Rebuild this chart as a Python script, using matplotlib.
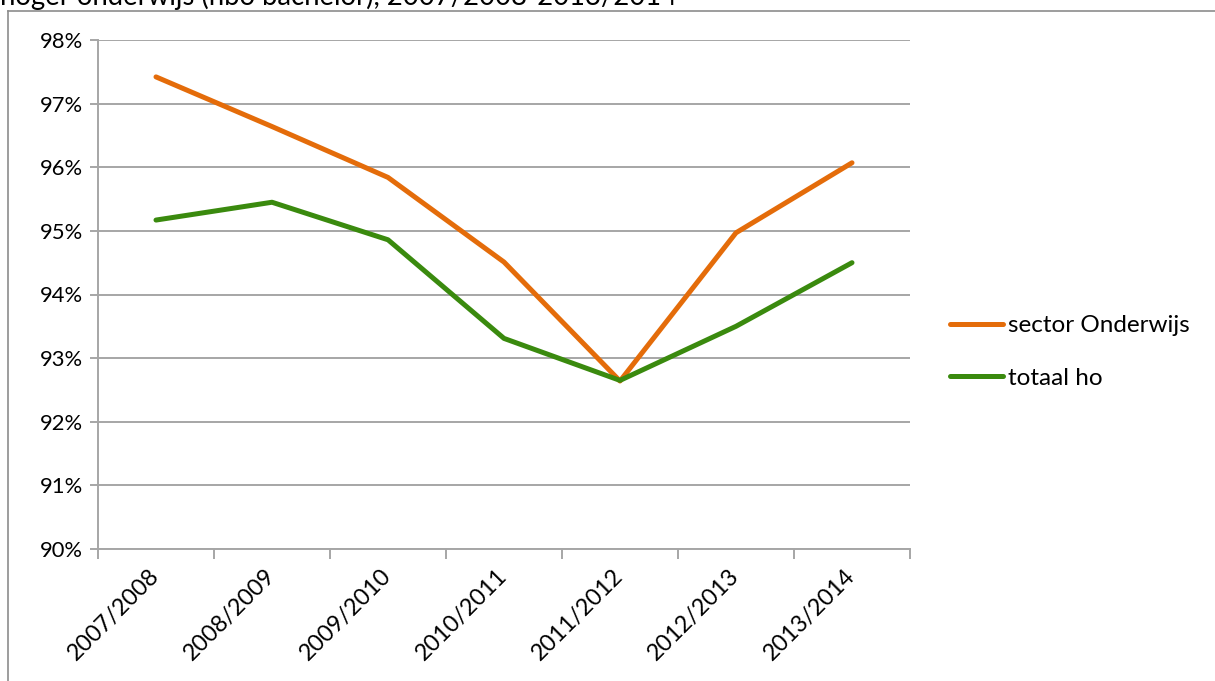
import matplotlib.pyplot as plt
from matplotlib.lines import Line2D
from matplotlib.ticker import FuncFormatter, FixedLocator

plt.rcParams['font.family'] = ['Lato', 'DejaVu Sans']

years = ['2007/2008', '2008/2009', '2009/2010', '2010/2011',
         '2011/2012', '2012/2013', '2013/2014']
sector_onderwijs = [97.42, 96.64, 95.84, 94.51, 92.64, 94.97, 96.07]
totaal_ho = [95.17, 95.45, 94.86, 93.31, 92.65, 93.50, 94.50]

orange = '#E46C0A'
green = '#3A8A0E'
grid_col = '#A6A6A6'

fig = plt.figure(figsize=(12.15, 6.81), dpi=100)
ax = fig.add_axes([98 / 1215, 1 - 549 / 681, (910 - 98) / 1215, (549 - 40) / 681])

x = list(range(len(years)))
ax.plot(x, sector_onderwijs, color=orange, lw=3.6, solid_capstyle='round',
        solid_joinstyle='round', label='sector Onderwijs', zorder=3)
ax.plot(x, totaal_ho, color=green, lw=3.6, solid_capstyle='round',
        solid_joinstyle='round', label='totaal ho', zorder=4)

ax.set_xlim(-0.5, len(years) - 0.5)
ax.set_ylim(90, 98)
ax.set_yticks(range(90, 99))
ax.yaxis.set_major_formatter(FuncFormatter(lambda v, p: f'{int(v)}%'))
ax.grid(axis='y', color=grid_col, lw=1.4)
ax.set_axisbelow(True)

ax.set_xticks(x)
ax.set_xticklabels(years, rotation=45, ha='right', va='center', rotation_mode='anchor')
ax.xaxis.set_minor_locator(FixedLocator([i - 0.5 for i in range(len(years) + 1)]))
ax.tick_params(axis='x', which='major', length=0, pad=17, labelsize=16.8)
ax.tick_params(axis='x', which='minor', length=7, color=grid_col, width=1.4)
ax.tick_params(axis='y', length=6, color=grid_col, width=1.4, labelsize=15.8, pad=5)

for s in ['top', 'right']:
    ax.spines[s].set_visible(False)
for s in ['left', 'bottom']:
    ax.spines[s].set_color(grid_col)
    ax.spines[s].set_linewidth(1.4)

fig.legend(loc='center left', bbox_to_anchor=(950 / 1215, 1 - 352 / 681), frameon=False,
           fontsize=17.5, handlelength=2.2, handletextpad=0.2, labelspacing=1.3,
           borderpad=0, borderaxespad=0)

# outer chart box, partly outside the image
fig.add_artist(Line2D([8 / 1215, 8 / 1215], [0, 1 - 11 / 681], color='#8C8C8C', lw=1.2))
fig.add_artist(Line2D([8 / 1215, 1], [1 - 11 / 681, 1 - 11 / 681], color='#8C8C8C', lw=1.2))

# title text cut off at the top of the image
fig.text(0.0, 1 - 5 / 681, 'hoger onderwijs (hbo bachelor), 2007/2008-2013/2014',
         fontsize=19.8, ha='left', va='baseline')

fig.savefig('out.png', dpi=100)
